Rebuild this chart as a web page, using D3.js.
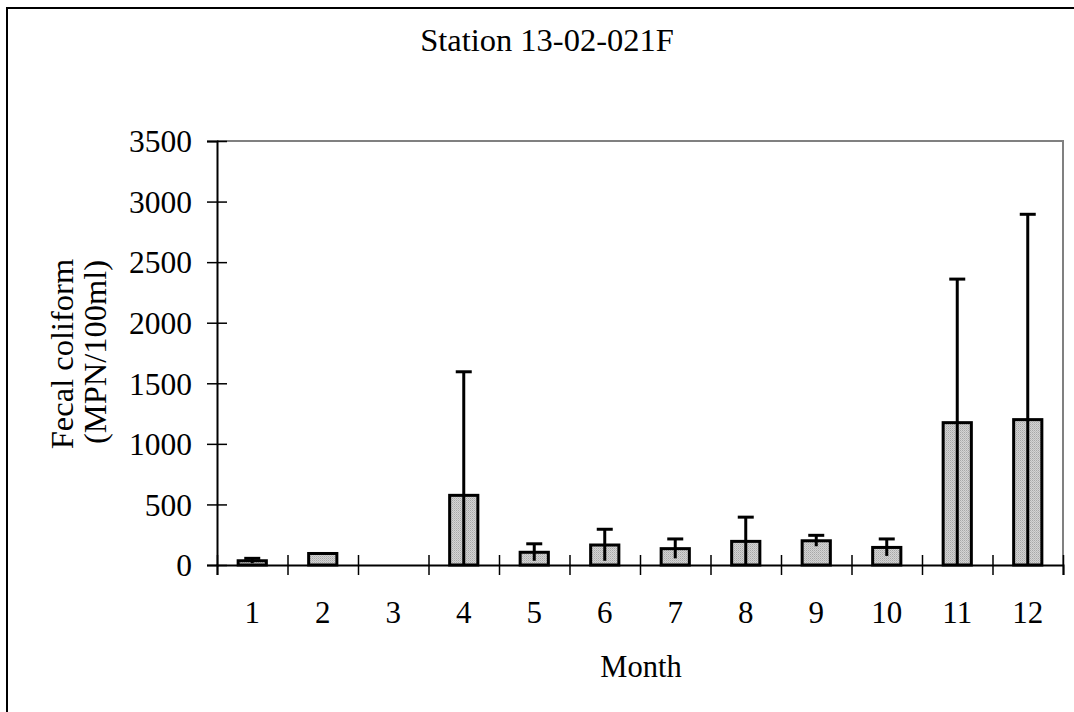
<!DOCTYPE html>
<html>
<head>
<meta charset="utf-8">
<script src="https://cdn.jsdelivr.net/npm/d3@7"></script>
<style>
  body { margin: 0; background: #fff; }
  svg text { font-family: "Liberation Serif", "Times New Roman", serif; fill: #000; }
</style>
</head>
<body>
<svg id="chart" width="1074" height="712"></svg>
<script>
// Monthly means and (upper) error for the station
var months = ["1", "2", "3", "4", "5", "6", "7", "8", "9", "10", "11", "12"];
var meanValues = [35, 95, 0, 575, 105, 165, 135, 195, 200, 145, 1175, 1200];
var errValues = [20, 0, 0, 1020, 70, 130, 80, 200, 45, 70, 1185, 1695];
var yTicks = [0, 500, 1000, 1500, 2000, 2500, 3000, 3500];

var data = months.map((m, i) => ({ month: m, mean: meanValues[i], err: errValues[i] }));

var svg = d3.select("#chart");

// plot area edges
var plotLeft = 217, plotRight = 1063, plotTop = 141, plotBottom = 565;

// Chart area border
svg.append("rect")
    .attr("x", 7).attr("y", 8)
    .attr("width", 1100).attr("height", 740)
    .attr("fill", "none")
    .attr("stroke", "#000")
    .attr("stroke-width", 2);

// Stippled grey fill for bars
var defs = svg.append("defs");
var pat = defs.append("pattern")
    .attr("id", "stipple")
    .attr("width", 2).attr("height", 2)
    .attr("patternUnits", "userSpaceOnUse");
pat.append("rect").attr("width", 2).attr("height", 2).attr("fill", "#d4d4d4");
pat.append("rect").attr("width", 1).attr("height", 1).attr("fill", "#a8a8a8");
pat.append("rect").attr("x", 1).attr("y", 1).attr("width", 1).attr("height", 1).attr("fill", "#bcbcbc");

var x = d3.scaleBand()
    .domain(months)
    .range([plotLeft, plotRight])
    .paddingInner(0.6)
    .paddingOuter(0.3);

var y = d3.scaleLinear()
    .domain([0, 3500])
    .range([plotBottom, plotTop]);

// top and right edges of the plot area (grey)
svg.append("path")
    .attr("d", `M${plotLeft},${plotTop}H${plotRight}V${plotBottom}`)
    .attr("fill", "none")
    .attr("stroke", "#808080")
    .attr("stroke-width", 2);

// Bars
svg.selectAll(".bar")
    .data(data.filter(d => d.mean > 0))
    .enter()
    .append("rect")
    .attr("class", "bar")
    .attr("x", d => x(d.month))
    .attr("y", d => y(d.mean))
    .attr("width", x.bandwidth())
    .attr("height", d => y(0) - y(d.mean))
    .attr("fill", "url(#stipple)")
    .attr("stroke", "#000")
    .attr("stroke-width", 3);

// Error bars (cap only on top)
var eb = svg.selectAll(".err")
    .data(data.filter(d => d.err > 0))
    .enter()
    .append("g")
    .attr("class", "err");
eb.append("line")
    .attr("x1", d => x(d.month) + x.bandwidth() / 2)
    .attr("x2", d => x(d.month) + x.bandwidth() / 2)
    .attr("y1", d => y(Math.max(0, d.mean - d.err)))
    .attr("y2", d => y(d.mean + d.err))
    .attr("stroke", "#000")
    .attr("stroke-width", 3);
eb.append("line")
    .attr("x1", d => x(d.month) + x.bandwidth() / 2 - 8)
    .attr("x2", d => x(d.month) + x.bandwidth() / 2 + 8)
    .attr("y1", d => y(d.mean + d.err))
    .attr("y2", d => y(d.mean + d.err))
    .attr("stroke", "#000")
    .attr("stroke-width", 3);

// Y axis
var yAxis = svg.append("g")
    .attr("transform", `translate(${plotLeft},0)`)
    .call(d3.axisLeft(y).tickValues(yTicks).tickSize(10).tickFormat(d3.format("d")));
yAxis.attr("font-family", null).attr("font-size", null);
yAxis.select(".domain").attr("stroke", "#000").attr("stroke-width", 2);
yAxis.selectAll(".tick line").attr("x1", -10).attr("x2", 10).attr("stroke", "#000").attr("stroke-width", 1.5);
yAxis.selectAll(".tick text")
    .attr("x", -25)
    .attr("dy", "0.34em")
    .style("font-size", "31.5px");

// X axis: ticks at the category boundaries
var xb = d3.scaleLinear().domain([0, 12]).range([plotLeft, plotRight]);
var xAxis = svg.append("g")
    .attr("transform", `translate(0,${plotBottom})`)
    .call(d3.axisBottom(xb).tickValues(d3.range(13)).tickSize(10).tickFormat(""));
xAxis.select(".domain").attr("stroke", "#000").attr("stroke-width", 2);
xAxis.selectAll(".tick line").attr("y1", -10).attr("y2", 10).attr("stroke", "#000").attr("stroke-width", 1.5);

svg.append("g").selectAll("text")
    .data(months)
    .enter()
    .append("text")
    .attr("x", d => x(d) + x.bandwidth() / 2)
    .attr("y", 623)
    .attr("text-anchor", "middle")
    .style("font-size", "31px")
    .text(d => d);

// Titles
svg.append("text")
    .attr("x", 547).attr("y", 51)
    .attr("text-anchor", "middle")
    .style("font-size", "32.5px")
    .text("Station 13-02-021F");

svg.append("text")
    .attr("x", 641).attr("y", 677)
    .attr("text-anchor", "middle")
    .style("font-size", "30.5px")
    .text("Month");

svg.append("text")
    .attr("transform", "translate(73,354) rotate(-90)")
    .attr("text-anchor", "middle")
    .style("font-size", "32.5px")
    .text("Fecal coliform");

svg.append("text")
    .attr("transform", "translate(106,352) rotate(-90)")
    .attr("text-anchor", "middle")
    .style("font-size", "32.5px")
    .text("(MPN/100ml)");
</script>
</body>
</html>
